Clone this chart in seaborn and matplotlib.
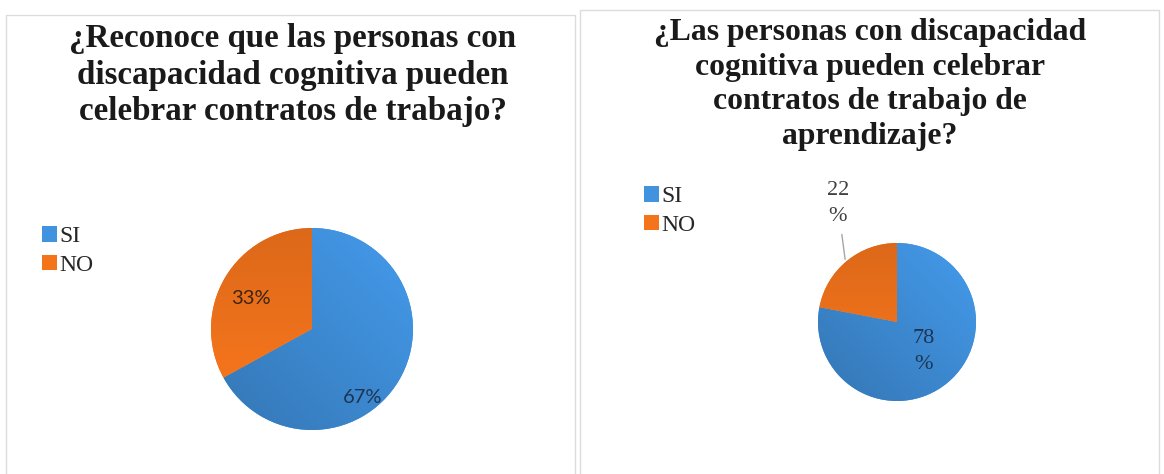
import numpy as np
import matplotlib
matplotlib.use("Agg")
import matplotlib.pyplot as plt
from matplotlib.patches import Rectangle, Patch
from matplotlib.colors import to_rgb
import seaborn as sns

# ---- data ----
categories = ["SI", "NO"]
values_left = [67, 33]
values_right = [78, 22]
title_left = "¿Reconoce que las personas con\ndiscapacidad cognitiva pueden\ncelebrar contratos de trabajo?"
title_right = "¿Las personas con discapacidad\ncognitiva pueden celebrar\ncontratos de trabajo de\naprendizaje?"

sns.set_theme(style="white")
plt.rcParams["font.family"] = ["Liberation Serif", "DejaVu Serif"]

colors = ["#4193e0", "#f4741c"]

W, H = 1164, 474
fig = plt.figure(figsize=(W / 100, H / 100), dpi=100)
fig.patch.set_facecolor("white")


def fx(px):
    return px / W


def fy(py):
    return 1 - py / H


# panel borders
fig.patches.append(Rectangle((fx(6), fy(479)), fx(575) - fx(6), fy(15) - fy(479),
                             transform=fig.transFigure, fill=False, edgecolor="#dcdcdc", lw=1))
fig.patches.append(Rectangle((fx(580), fy(479)), fx(1159) - fx(580), fy(10) - fy(479),
                             transform=fig.transFigure, fill=False, edgecolor="#dcdcdc", lw=1))

LIM = 1.8


def pie_axes(cx, cy, r):
    s = 2 * LIM * r
    ax = fig.add_axes([fx(cx - s / 2), fy(cy + s / 2), s / W, s / H])
    ax.set_axis_off()
    return ax


def fix_lims(ax):
    ax.set_xlim(-LIM, LIM)
    ax.set_ylim(-LIM, LIM)
    ax.set_aspect("equal")


def shade(ax, wedges):
    # subtle linear gradients like the original Excel styling
    n = 200
    xs = np.linspace(-1, 1, n)
    X, Y = np.meshgrid(xs, xs[::-1])
    # blue: darker toward lower left; orange: darker toward the top
    t_blue = np.clip((X + Y) / (2 * np.sqrt(2)) + 0.5, 0, 1)
    f_blue = 0.84 + 0.18 * t_blue
    t_or = np.clip((1 - Y) / 2, 0, 1)
    f_or = 0.90 + 0.14 * t_or
    for w, f in zip(wedges, [f_blue, f_or]):
        base = np.array(to_rgb(w.get_facecolor()))
        img = np.clip(base[None, None, :] * f[:, :, None], 0, 1)
        im = ax.imshow(img, extent=(-1, 1, -1, 1), interpolation="bilinear", zorder=w.get_zorder() + 0.1)
        im.set_clip_path(w)


def mid_angle(vals, i):
    total = sum(vals)
    start = 90 - 360 * sum(vals[:i]) / total
    end = start - 360 * vals[i] / total
    return np.deg2rad((start + end) / 2)


# ---- left pie ----
axL = pie_axes(312, 329, 101)
wL, _ = axL.pie(values_left, colors=colors, startangle=90, counterclock=False, radius=1,
                wedgeprops=dict(linewidth=0))
shade(axL, wL)
fix_lims(axL)
a = mid_angle(values_left, 1)
axL.text(0.70 * np.cos(a), 0.70 * np.sin(a) - 0.05, f"{values_left[1]}%", ha="center", va="center",
         fontsize=14.5, family="Lato", color="#3b2412", zorder=5)
a = mid_angle(values_left, 0) - np.deg2rad(23)
axL.text(0.84 * np.cos(a), 0.84 * np.sin(a), f"{values_left[0]}%", ha="center", va="center",
         fontsize=14.5, family="Lato", color="#1d3554", zorder=5)

# ---- right pie ----
axR = pie_axes(897, 322, 79)
wR, _ = axR.pie(values_right, colors=colors, startangle=90, counterclock=False, radius=1,
                wedgeprops=dict(linewidth=0))
shade(axR, wR)
fix_lims(axR)
a = mid_angle(values_right, 0) + np.deg2rad(2)
axR.text(0.50 * np.cos(a), 0.50 * np.sin(a), f"{values_right[0]}\n%", ha="center", va="center",
         fontsize=16, color="#1d3554", linespacing=1.5, zorder=5)
a = mid_angle(values_right, 1)
axR.annotate(f"{values_right[1]}\n%", xy=(1.03 * np.cos(a), 1.03 * np.sin(a)), xytext=(-0.75, 1.50),
             ha="center", va="center", fontsize=16, color="#404040", linespacing=1.45, zorder=5,
             arrowprops=dict(arrowstyle="-", color="#a6a6a6", lw=1, shrinkA=4, shrinkB=0))

# ---- titles ----
fig.text(fx(293), fy(23), title_left, ha="center", va="top", fontsize=23.8, fontweight="bold",
         color="#1a1a1a", linespacing=1.23)
fig.text(fx(870), fy(18), title_right, ha="center", va="top", fontsize=22.8, fontweight="bold",
         color="#1a1a1a", linespacing=1.26)

# ---- legends ----
handles = [Patch(facecolor=c, edgecolor="none", label=l) for c, l in zip(colors, categories)]
for x0, y0 in [(42, 226), (644, 186)]:
    fig.legend(handles=handles, loc="upper left", bbox_to_anchor=(fx(x0), fy(y0)),
               frameon=False, fontsize=17, handlelength=0.65, handleheight=0.65,
               handletextpad=0.1, labelspacing=0.32, borderpad=0, borderaxespad=0)

fig.savefig("out.png", dpi=100, facecolor="white")
